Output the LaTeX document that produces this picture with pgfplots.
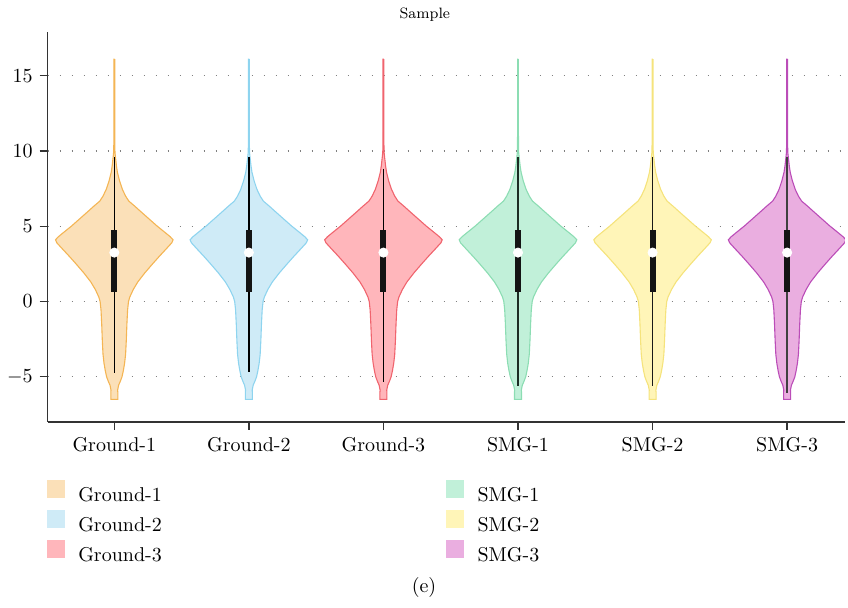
\documentclass[border=0pt]{standalone}
\usepackage{pgfplots}
\usepackage{pgfplotstable}
\pgfplotsset{compat=1.18}
\definecolor{gAf}{HTML}{FBE0B8}\definecolor{gAe}{HTML}{F4B554}
\definecolor{gBf}{HTML}{CFEBF7}\definecolor{gBe}{HTML}{8ED4EF}
\definecolor{gCf}{HTML}{FFB6BB}\definecolor{gCe}{HTML}{F0646E}
\definecolor{sAf}{HTML}{C1F0D9}\definecolor{sAe}{HTML}{8CDDB3}
\definecolor{sBf}{HTML}{FFF5B8}\definecolor{sBe}{HTML}{F5E37C}
\definecolor{sCf}{HTML}{EAAEE0}\definecolor{sCe}{HTML}{BB4DB8}
% violin outline: y value and signed half-width (category units)
\pgfplotstableread{
y s
16.1 0.0030
12.0 0.0030
10.5 0.0035
9.9 0.0050
9.6 0.0085
9.0 0.0160
8.56 0.0235
8.0 0.0395
7.45 0.0600
7.0 0.0840
6.67 0.1077
6.33 0.1523
6.0 0.1932
5.5 0.2563
5.0 0.3195
4.6 0.3752
4.3 0.4160
4.1 0.4368
3.9 0.4272
3.5 0.3863
3.0 0.3343
2.5 0.2845
1.9 0.2266
1.3 0.1746
0.8 0.1412
0.3 0.1152
0.0 0.1055
-0.56 0.0988
-1.5 0.0936
-2.56 0.0892
-3.5 0.0840
-4.1 0.0765
-4.6 0.0669
-5.0 0.0572
-5.3 0.0446
-5.56 0.0319
-5.89 0.0245
-6.0 0.0260
-6.5 0.0260
-6.5 -0.0260
-6.0 -0.0260
-5.89 -0.0245
-5.56 -0.0319
-5.3 -0.0446
-5.0 -0.0572
-4.6 -0.0669
-4.1 -0.0765
-3.5 -0.0840
-2.56 -0.0892
-1.5 -0.0936
-0.56 -0.0988
0.0 -0.1055
0.3 -0.1152
0.8 -0.1412
1.3 -0.1746
1.9 -0.2266
2.5 -0.2845
3.0 -0.3343
3.5 -0.3863
3.9 -0.4272
4.1 -0.4368
4.3 -0.4160
4.6 -0.3752
5.0 -0.3195
5.5 -0.2563
6.0 -0.1932
6.33 -0.1523
6.67 -0.1077
7.0 -0.0840
7.45 -0.0600
8.0 -0.0395
8.56 -0.0235
9.0 -0.0160
9.6 -0.0085
9.9 -0.0050
10.5 -0.0035
12.0 -0.0030
16.1 -0.0030
16.1 0.0030
}\violin
\newcommand{\fs}{\fontsize{10}{12}\selectfont}
\begin{document}
\begin{tikzpicture}
\useasboundingbox (0,0) rectangle (424pt,304pt);
\begin{axis}[
  at={(23.85pt,93pt)}, anchor=south west,
  scale only axis, width=398.65pt, height=195pt,
  xmin=-0.495, xmax=5.43, ymin=-8, ymax=17.9,
  axis x line*=bottom, axis y line*=left,
  axis line style={draw=black!80, line width=0.65pt},
  xtick={0,1,2,3,4,5},
  xticklabels={Ground-1,Ground-2,Ground-3,SMG-1,SMG-2,SMG-3},
  ytick={-5,0,5,10,15},
  tick align=outside, major tick length=4pt,
  tick style={draw=black!80, line width=0.65pt},
  tick label style={font=\fs},
  ymajorgrids,
  major grid style={draw=gray, line width=0.6pt, dash pattern=on 0.6pt off 5.4pt},
  title=Sample,
  title style={at={(0.473,1)}, anchor=center, yshift=2.5pt, font=\fontsize{7.5}{9}\selectfont},
  legend columns=3, transpose legend, legend cell align=left,
  legend image code/.code={\fill[#1, draw=none] (0pt,-1.2pt) rectangle (9pt,7.8pt);},
  legend style={at={(-0.0014,-0.1487)}, anchor=north west, draw=none, fill=none,
    inner sep=0pt, outer sep=0pt, font=\fs, row sep=3.0pt,
    nodes={inner sep=0pt},
    /tikz/every odd column/.append style={column sep=6.85pt},
    /tikz/every even column/.append style={column sep=142pt}},
]
\addplot[fill=gAf, draw=gAe, line width=0.55pt] table[x expr=0+\thisrow{s}, y=y]{\violin};
\addlegendentry{Ground-1}
\addplot[fill=gBf, draw=gBe, line width=0.55pt] table[x expr=1+\thisrow{s}, y=y]{\violin};
\addlegendentry{Ground-2}
\addplot[fill=gCf, draw=gCe, line width=0.55pt] table[x expr=2+\thisrow{s}, y=y]{\violin};
\addlegendentry{Ground-3}
\addplot[fill=sAf, draw=sAe, line width=0.55pt] table[x expr=3+\thisrow{s}, y=y]{\violin};
\addlegendentry{SMG-1}
\addplot[fill=sBf, draw=sBe, line width=0.55pt] table[x expr=4+\thisrow{s}, y=y]{\violin};
\addlegendentry{SMG-2}
\addplot[fill=sCf, draw=sCe, line width=0.55pt] table[x expr=5+\thisrow{s}, y=y]{\violin};
\addlegendentry{SMG-3}
% whiskers
\addplot[forget plot, black, line width=0.65pt] coordinates {(0,9.6) (0,-4.72)};
\addplot[forget plot, black, line width=0.65pt] coordinates {(1,9.6) (1,-4.67)};
\addplot[forget plot, black, line width=0.65pt] coordinates {(2,8.83) (2,-5.33)};
\addplot[forget plot, black!80!sAe, line width=0.65pt] coordinates {(3,9.6) (3,-5.62)};
\addplot[forget plot, black!90, line width=0.65pt] coordinates {(4,9.6) (4,-5.62)};
\addplot[forget plot, black!75, line width=0.65pt] coordinates {(5,9.6) (5,-6.1)};
% boxes (q1 to q3)
\addplot[forget plot, black!92, line width=3pt] coordinates {(0,0.66) (0,4.75)};
\addplot[forget plot, black!92, line width=3pt] coordinates {(1,0.66) (1,4.75)};
\addplot[forget plot, black!92, line width=3pt] coordinates {(2,0.66) (2,4.75)};
\addplot[forget plot, black!92, line width=3pt] coordinates {(3,0.66) (3,4.75)};
\addplot[forget plot, black!92, line width=3pt] coordinates {(4,0.66) (4,4.75)};
\addplot[forget plot, black!92, line width=3pt] coordinates {(5,0.66) (5,4.75)};
% medians
\addplot[forget plot, only marks, mark=*, mark size=2.3pt, mark options={fill=white, draw=white}]
  coordinates {(0,3.25) (1,3.25) (2,3.25) (3,3.25) (4,3.25) (5,3.25)};
\end{axis}
\node[font=\fs] at (212pt,10pt) {(e)};
\end{tikzpicture}
\end{document}
